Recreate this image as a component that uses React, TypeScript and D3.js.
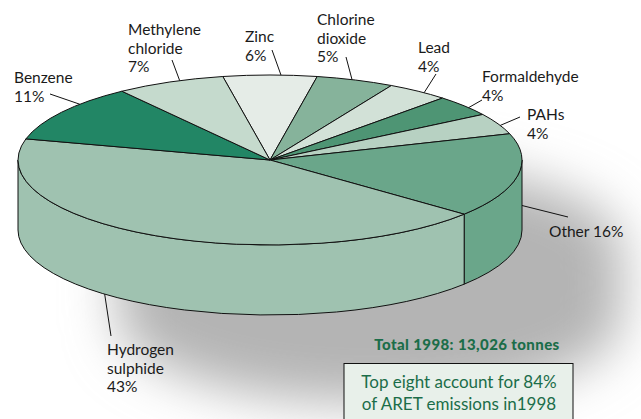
import React from 'react';
import * as d3 from 'd3';

// slices, clockwise from the top
const categories = ['Zinc', 'Chlorine dioxide', 'Lead', 'Formaldehyde', 'PAHs', 'Other', 'Hydrogen sulphide', 'Benzene', 'Methylene chloride'];
const shares = [6, 5, 4, 4, 4, 16, 43, 11, 7];
const labelLines = [
  ['Zinc', '6%'],
  ['Chlorine', 'dioxide', '5%'],
  ['Lead', '4%'],
  ['Formaldehyde', '4%'],
  ['PAHs', '4%'],
  ['Other 16%'],
  ['Hydrogen', 'sulphide', '43%'],
  ['Benzene', '11%'],
  ['Methylene', 'chloride', '7%'],
];
const totalText = 'Total 1998: 13,026 tonnes';
const noteLines = ['Top eight account for 84%', 'of ARET emissions in1998'];

const colors = ['#e5ece7', '#86b39b', '#d2e1d7', '#4e9574', '#b7d1c2', '#6aa68a', '#9fc2b0', '#228665', '#c5dacd'];

// label layout: text pos, leader start, anchor angle (deg) on the rim, rim depth fraction
const labelLayout = [
  { x: 245, y: 42, lx: 272, ly: 50, a: 2.5, d: 0 },
  { x: 317, y: 25, lx: 346, ly: 57, a: 19, d: 0 },
  { x: 418, y: 53, lx: 436, ly: 74, a: 37.7, d: 0 },
  { x: 482, y: 82, lx: 482, ly: 100, a: 52, d: 0 },
  { x: 527, y: 120, lx: 520, ly: 117, a: 66, d: 0 },
  { x: 549, y: 237, lx: 568, ly: 217, a: 90, d: 0.65 },
  { x: 107, y: 355, lx: 111, ly: 336, a: 221, d: 1 },
  { x: 14, y: 83, lx: 50, ly: 94, a: 311, d: 0 },
  { x: 128, y: 35, lx: 172, ly: 60, a: 339, d: 0 },
];

const W = 641;
const H = 419;
const cx = 270;
const cy = 160;
const rx = 252;
const ry = 85;
const depth = 70;

const pt = (t: number, dy = 0) => [cx + rx * Math.sin(t), cy - ry * Math.cos(t) + dy];
const P = (p: number[]) => `${p[0].toFixed(2)},${p[1].toFixed(2)}`;

export default function App() {
  const start = -(shares[0] / 200) * 2 * Math.PI;
  const pie = d3.pie<number>().sort(null).value((d) => d).startAngle(start).endAngle(start + 2 * Math.PI);
  const arcs = pie(shares);

  const topPath = (a: number, b: number) => {
    const large = b - a > Math.PI ? 1 : 0;
    return `M${cx},${cy}L${P(pt(a))}A${rx},${ry} 0 ${large} 1 ${P(pt(b))}Z`;
  };
  const sidePath = (a: number, b: number) => {
    const s = Math.max(a, Math.PI / 2);
    const e = Math.min(b, (3 * Math.PI) / 2);
    if (s >= e) return null;
    return `M${P(pt(s))}A${rx},${ry} 0 0 1 ${P(pt(e))}L${P(pt(e, depth))}A${rx},${ry} 0 0 0 ${P(pt(s, depth))}Z`;
  };
  const silhouette =
    `M${P(pt(Math.PI / 2))}A${rx},${ry} 0 1 0 ${P(pt((3 * Math.PI) / 2))}` +
    `L${P(pt((3 * Math.PI) / 2, depth))}A${rx},${ry} 0 0 0 ${P(pt(Math.PI / 2, depth))}Z`;

  const font = 'Lato, "Open Sans", sans-serif';
  const green = '#1b6d49';

  return (
    <svg width={W} height={H} style={{ position: 'absolute', left: 0, top: 0 }}>
      <defs>
        <filter id="blur" x="-30%" y="-50%" width="160%" height="200%">
          <feGaussianBlur stdDeviation="26" />
        </filter>
      </defs>
      <rect width={W} height={H} fill="#fff" />
      <path d={silhouette} transform="translate(100,88)" fill="#b4b4b4" filter="url(#blur)" />

      {/* sides */}
      {arcs.map((d, i) => {
        const p = sidePath(d.startAngle, d.endAngle);
        return p ? <path key={'s' + i} d={p} fill={colors[i]} stroke="#111" strokeWidth={1} /> : null;
      })}
      {/* tops */}
      {arcs.map((d, i) => (
        <path key={'t' + i} d={topPath(d.startAngle, d.endAngle)} fill={colors[i]} stroke="#111" strokeWidth={1} strokeLinejoin="round" />
      ))}

      {/* labels */}
      {categories.map((c, i) => {
        const L = labelLayout[i];
        const end = pt((L.a * Math.PI) / 180, L.d * depth);
        return (
          <g key={'l' + c}>
            <line x1={L.lx} y1={L.ly} x2={end[0]} y2={end[1]} stroke="#111" strokeWidth={1} />
            <text x={L.x} y={L.y} fontFamily={font} fontSize={15.5} fill="#1a1a1a">
              {labelLines[i].map((t, j) => (
                <tspan key={j} x={L.x} dy={j === 0 ? 0 : 18.5}>
                  {t}
                </tspan>
              ))}
            </text>
          </g>
        );
      })}

      <text x={467} y={350} textAnchor="middle" fontFamily={font} fontWeight="900" fontSize={15} letterSpacing={0.4} fill={green}>
        {totalText}
      </text>
      <rect x={344} y={363.5} width={229} height={60} fill="#e8f0ea" stroke="#111" strokeWidth={1} />
      {noteLines.map((t, j) => (
        <text key={t} x={459} y={388 + j * 22} textAnchor="middle" fontFamily={font} fontSize={17} fill={green}>
          {t}
        </text>
      ))}
    </svg>
  );
}
